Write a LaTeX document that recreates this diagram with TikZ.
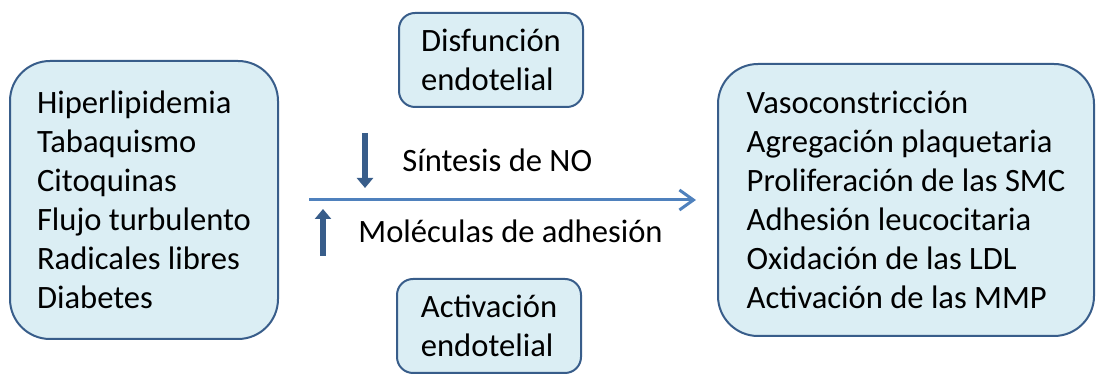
\documentclass[tikz,border=0pt]{standalone}
\usepackage{fontspec}
\setmainfont{Carlito}
\usetikzlibrary{arrows.meta,positioning}
\definecolor{boxfill}{HTML}{DBEEF4}
\definecolor{boxline}{HTML}{385D8A}
\definecolor{flowline}{HTML}{4F81BD}

\begin{document}
\begin{tikzpicture}[x=0.5pt,y=-0.5pt,
    listbox/.style={draw=boxline,line width=1pt,fill=boxfill,rounded corners=20pt,
      align=left,inner sep=0pt,font=\fontsize{16.3}{19.5}\selectfont},
    smallbox/.style={listbox,rounded corners=8pt,minimum width=92pt,minimum height=47pt},
    updown/.style={draw=boxline,line width=3pt,-{Triangle[length=5pt,width=8pt]}},
    flow/.style={draw=flowline,line width=1.5pt,-{Straight Barb[length=7pt,width=10pt]}},
    change/.style={font=\fontsize{16.3}{19}\selectfont,anchor=base west,inner sep=0pt}]
    \useasboundingbox (0,0) rectangle (1098,378);
    \node[listbox,minimum width=134pt,minimum height=139pt] (factors) at (144,200)
        {Hiperlipidemia\\Tabaquismo\\Citoquinas\\Flujo turbulento\\Radicales libres\\Diabetes};
    \node[listbox,minimum width=188pt,minimum height=136pt] (effects) at (906,200)
        {Vasoconstricción\\Agregación plaquetaria\\Proliferación de las SMC\\Adhesión leucocitaria\\Oxidación de las LDL\\Activación de las MMP};
    \node[smallbox] (dysfunction) at (491,60) {Disfunción\\endotelial};
    \node[smallbox] (activation) at (489,326) {Activación\\endotelial};
    \node[change] (synth) at (402,172) {Síntesis de NO};
    \node[change] (adhes) at (358,243) {Moléculas de adhesión};
    % up and down markers
    \coordinate (down top) at (365,133);
    \coordinate (down tip) at (365,188);
    \coordinate (up foot) at (323,256);
    \coordinate (up tip) at (323,209);
    \draw[updown] (down top) -- (down tip);
    \draw[updown] (up foot) -- (up tip);
    \draw[flow,shorten <=15pt,shorten >=10.5pt] (factors.east) -- (effects.west);
\end{tikzpicture}
\end{document}
